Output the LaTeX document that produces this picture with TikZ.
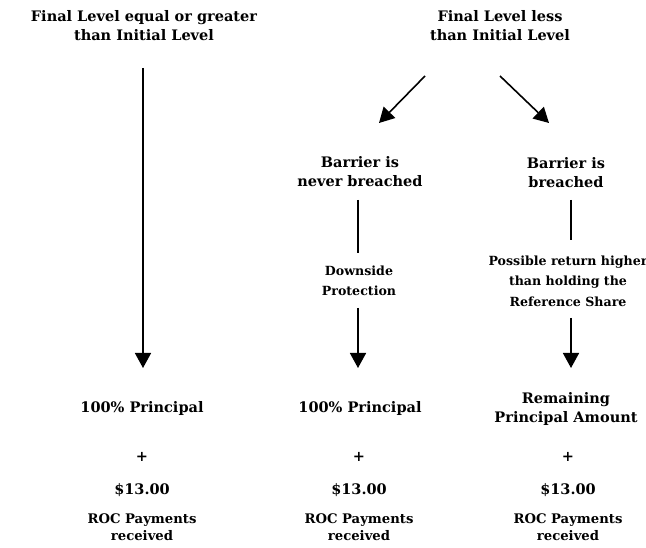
\documentclass[tikz,border=0pt]{standalone}
\usepackage{fontspec}
\setmainfont{DejaVu Serif}
\usetikzlibrary{arrows.meta}
\begin{document}
\begin{tikzpicture}[x=1pt,y=-1pt,
  big/.style={font=\bfseries\fontsize{14.5}{19}\selectfont, align=center, inner sep=0pt},
  small/.style={font=\bfseries\fontsize{12.6}{20.5}\selectfont, align=center, inner sep=0pt},
  roc/.style={font=\bfseries\fontsize{13.2}{16.5}\selectfont, align=center, inner sep=0pt},
  conn/.style={line width=1.6pt},
  arr/.style={line width=1.6pt, -{Triangle[length=15pt,width=16pt]}}]
\useasboundingbox (0,0) rectangle (646,548);
% top
\node[big] (t1) at (144,26) {Final Level equal or greater\\than Initial Level};
\node[big] (t2) at (500,26) {Final Level less\\than Initial Level};
% middle
\node[big] (b1) at (360,172) {Barrier is\\never breached};
\node[big] (b2) at (566,173) {Barrier is\\breached};
\node[small] (d1) at (359,281) {Downside\\Protection};
\node[small] (d2) at (568,281) {Possible return higher\\than holding the\\Reference Share};
% bottom
\node[big] (p1) at (142,408) {100\% Principal};
\node[big] (p2) at (360,408) {100\% Principal};
\node[big] (p3) at (566,409) {Remaining\\Principal Amount};
\node[big] (plus1) at (142,457) {+};
\node[big] (plus2) at (359,457) {+};
\node[big] (plus3) at (568,457) {+};
\node[big] (m1) at (142,490) {\$13.00};
\node[big] (m2) at (359,490) {\$13.00};
\node[big] (m3) at (568,490) {\$13.00};
\node[roc] (r1) at (142,527) {ROC Payments\\received};
\node[roc] (r2) at (359,527) {ROC Payments\\received};
\node[roc] (r3) at (568,527) {ROC Payments\\received};
% connectors
\coordinate (a1s) at (143,68);
\coordinate (a1e) at (143,368);
\draw[arr] (a1s) -- (a1e);
\coordinate (a2s) at (425,76);
\coordinate (a2e) at (379,123);
\draw[arr] (a2s) -- (a2e);
\coordinate (a3s) at (500,76);
\coordinate (a3e) at (549,123);
\draw[arr] (a3s) -- (a3e);
\coordinate (l1s) at (358,200);
\coordinate (l1e) at (358,253);
\draw[conn] (l1s) -- (l1e);
\coordinate (l2s) at (358,308);
\coordinate (l2e) at (358,368);
\draw[arr] (l2s) -- (l2e);
\coordinate (l3s) at (571,200);
\coordinate (l3e) at (571,240);
\draw[conn] (l3s) -- (l3e);
\coordinate (l4s) at (571,318);
\coordinate (l4e) at (571,368);
\draw[arr] (l4s) -- (l4e);
\end{tikzpicture}
\end{document}
